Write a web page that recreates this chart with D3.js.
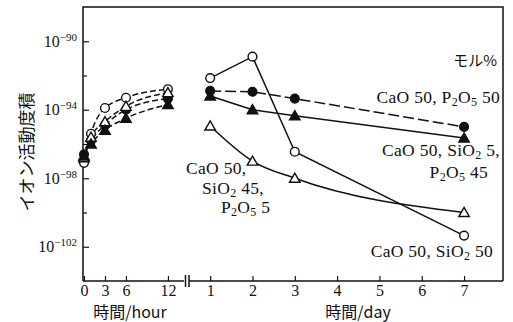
<!DOCTYPE html>
<html>
<head>
<meta charset="utf-8">
<script src="https://cdn.jsdelivr.net/npm/d3@7"></script>
<style>
  body { margin: 0; background: #fff; }
</style>
</head>
<body>
<svg id="chart" width="513" height="322"></svg>
<script>
// time points
var hours = [0, 1, 3, 6, 12];
var days = [1, 2, 3, 7];

// log10 of ion activity product, hour panel
var sio2_50_h = [-97.1, -95.4, -93.9, -93.3, -92.8];
var p2o5_50_h = [-96.6, -95.8, -94.9, -94.0, -93.35];
var sio2_45_h = [-96.8, -95.6, -94.7, -93.8, -93.0];
var sio2_5_h  = [-96.7, -96.0, -95.2, -94.5, -93.7];

// log10 of ion activity product, day panel
var sio2_50_d = [-92.15, -90.9, -96.45, -101.35];
var p2o5_50_d = [-92.9, -92.95, -93.35, -95.0];
var sio2_5_d  = [-93.2, -94.0, -94.35, -95.65];
var sio2_45_d = [-94.95, -97.0, -98.0, -100.0];

// ticks
var yTicks = [-90, -94, -98, -102];
var yMinor = [-92, -96, -100];
var hourTicks = [0, 3, 6, 12];
var dayTicks = [1, 2, 3, 4, 5, 6, 7];

var SERIF = '"Liberation Serif", serif';
var JP = '"Noto Sans CJK JP", sans-serif';

var chart = d3.select('#chart');

// scales
var y = d3.scaleLinear().domain([-104, -88]).range([281, 7]);
var xh = d3.scaleLinear().domain([0, 14.3]).range([84, 184]);
var xd = d3.scaleLinear().domain([0.5, 7.92]).range([189, 503]);

// frame
var frame = chart.append('g')
    .attr('fill', 'none')
    .attr('stroke', '#111')
    .attr('stroke-width', 1.5);
frame.append('path').attr('d', 'M83,281 L83,7 L503,7 L503,281');
frame.append('line').attr('x1', 83).attr('x2', 184).attr('y1', 281).attr('y2', 281);
frame.append('line').attr('x1', 189).attr('x2', 503).attr('y1', 281).attr('y2', 281);
// axis break
frame.append('line').attr('x1', 185.5).attr('x2', 185.5).attr('y1', 275).attr('y2', 287);
frame.append('line').attr('x1', 189).attr('x2', 189).attr('y1', 275).attr('y2', 287);

// y axis with ticks pointing inward
var yAxis = chart.append('g')
    .attr('transform', 'translate(83,0)')
    .call(d3.axisLeft(y).tickValues(yTicks).tickSize(-6).tickPadding(6));
yAxis.select('.domain').remove();
yAxis.selectAll('line').attr('stroke', '#111').attr('stroke-width', 1.2);
yAxis.selectAll('text')
    .attr('font-size', 16)
    .style('font-family', SERIF)
    .attr('fill', '#111')
    .each(function(d) {
        var t = d3.select(this).text(null);
        t.append('tspan').text('10');
        t.append('tspan').attr('dy', -6).attr('font-size', 11).text('\u2212' + Math.abs(d));
    });

var yMinorAxis = chart.append('g')
    .attr('transform', 'translate(83,0)')
    .call(d3.axisLeft(y).tickValues(yMinor).tickSize(-4).tickFormat(''));
yMinorAxis.select('.domain').remove();
yMinorAxis.selectAll('line').attr('stroke', '#111').attr('stroke-width', 1.2);

// x axes
function styleX(g) {
    g.select('.domain').remove();
    g.selectAll('line').attr('stroke', '#111').attr('stroke-width', 1.2);
    g.selectAll('text')
        .attr('font-size', 16)
        .style('font-family', SERIF)
        .attr('fill', '#111');
}
chart.append('g')
    .attr('transform', 'translate(0,281)')
    .call(d3.axisBottom(xh).tickValues(hourTicks).tickSize(-5).tickPadding(4))
    .call(styleX);
chart.append('g')
    .attr('transform', 'translate(0,281)')
    .call(d3.axisBottom(xd).tickValues(dayTicks).tickSize(-5).tickPadding(4))
    .call(styleX);

// series
var seriesH = [
    { x: hours, v: sio2_50_h, mark: 'circle', fill: false },
    { x: hours, v: p2o5_50_h, mark: 'circle', fill: true },
    { x: hours, v: sio2_45_h, mark: 'tri', fill: false },
    { x: hours, v: sio2_5_h,  mark: 'tri', fill: true }
];
var seriesD = [
    { x: days, v: sio2_50_d, mark: 'circle', fill: false, dash: null, curve: d3.curveLinear },
    { x: days, v: p2o5_50_d, mark: 'circle', fill: true, dash: '11,4', curve: d3.curveLinear },
    { x: days, v: sio2_5_d,  mark: 'tri', fill: true, dash: null, curve: d3.curveLinear },
    { x: days, v: sio2_45_d, mark: 'tri', fill: false, dash: null, curve: d3.curveMonotoneX }
];

function drawSeries(list, xs, dashDefault, curveDefault) {
    var g = chart.append('g');
    list.forEach(function(s) {
        var pts = s.x.map(function(t, i) { return [xs(t), y(s.v[i])]; });
        g.append('path')
            .attr('d', d3.line().curve(s.curve || curveDefault)(pts))
            .attr('fill', 'none')
            .attr('stroke', '#111')
            .attr('stroke-width', 1.5)
            .attr('stroke-dasharray', s.dash !== undefined ? s.dash : dashDefault);
    });
    list.forEach(function(s) {
        var pts = s.x.map(function(t, i) { return [xs(t), y(s.v[i])]; });
        var sym = d3.symbol()
            .type(s.mark == 'circle' ? d3.symbolCircle : d3.symbolTriangle)
            .size(s.mark == 'circle' ? 60 : 48);
        g.selectAll(null)
            .data(pts)
            .enter().append('path')
            .attr('d', sym)
            .attr('transform', function(p) { return 'translate(' + p[0] + ',' + (p[1] + (s.mark == 'tri' ? 1 : 0)) + ')'; })
            .attr('fill', s.fill ? '#111' : '#fff')
            .attr('stroke', '#111')
            .attr('stroke-width', 1.4);
    });
}
drawSeries(seriesH, xh, '6,3', d3.curveMonotoneX);
drawSeries(seriesD, xd, null, d3.curveLinear);

// composition labels ("_" marks a subscript)
var labels = [
    { x: 500, y: 103, anchor: 'end', parts: ['CaO 50, P', '_2', 'O', '_5', ' 50'] },
    { x: 500, y: 156, anchor: 'end', parts: ['CaO 50, SiO', '_2', ' 5,'] },
    { x: 488, y: 178, anchor: 'end', parts: ['P', '_2', 'O', '_5', ' 45'] },
    { x: 186, y: 174, anchor: 'start', parts: ['CaO 50,'] },
    { x: 202, y: 194, anchor: 'start', parts: ['SiO', '_2', ' 45,'] },
    { x: 221, y: 213, anchor: 'start', parts: ['P', '_2', 'O', '_5', ' 5'] },
    { x: 493, y: 257, anchor: 'end', parts: ['CaO 50, SiO', '_2', ' 50'] }
];
labels.forEach(function(l) {
    var t = chart.append('text')
        .attr('x', l.x).attr('y', l.y)
        .attr('text-anchor', l.anchor)
        .attr('font-size', 17.5)
        .attr('letter-spacing', 0.3)
        .attr('fill', '#111')
        .style('font-family', SERIF);
    var sub = false;
    l.parts.forEach(function(p) {
        if (p[0] == '_') {
            t.append('tspan').attr('dy', 3).attr('font-size', 12).text(p.slice(1));
            sub = true;
        } else {
            t.append('tspan').attr('dy', sub ? -3 : 0).text(p);
            sub = false;
        }
    });
});

function jpText(x, yy, txt, anchor, size) {
    return chart.append('text')
        .attr('x', x).attr('y', yy)
        .attr('text-anchor', anchor)
        .attr('font-size', size)
        .attr('fill', '#111')
        .style('font-family', JP)
        .text(txt);
}

jpText(497, 66, 'モル%', 'end', 15);

// axis titles
jpText(0, 0, 'イオン活動度積', 'middle', 17)
    .attr('transform', 'translate(33,152) rotate(-90)');
jpText(130, 318, '時間/hour', 'middle', 16);
jpText(358, 318, '時間/day', 'middle', 16);
</script>
</body>
</html>
